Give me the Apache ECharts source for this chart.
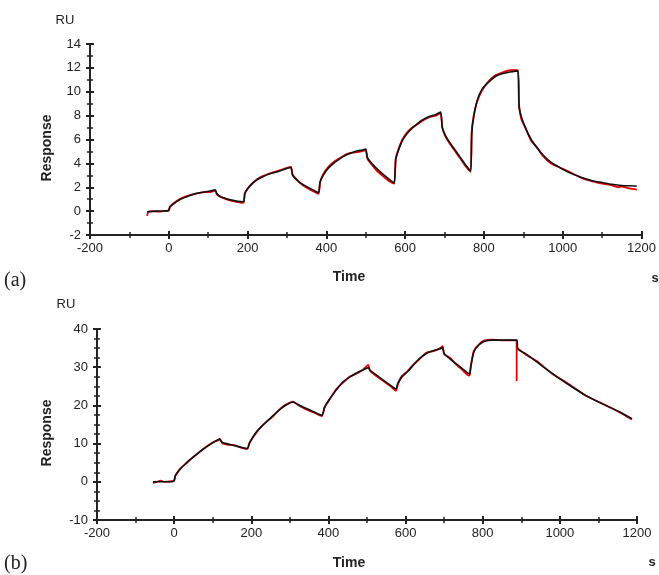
<!DOCTYPE html>
<html>
<head>
<meta charset="utf-8">
<script src="https://cdn.jsdelivr.net/npm/echarts@6/dist/echarts.min.js"></script>
<style>html,body{margin:0;padding:0;background:#fff;}#c{width:659px;height:575px;}</style>
</head>
<body>
<div id="c"></div>
<script>
// ---- Panel (a): [time s, response RU]
var fitCurveA = [[-55,-0.05],[-30,0],[-5,0.02],[0,0.08],[3,0.4],[10,0.55],[20,0.8],[30,1.0],[45,1.2],[60,1.4],[75,1.52],[90,1.6],[105,1.68],[118,1.78],[122,1.45],[130,1.25],[145,1.05],[160,0.92],[175,0.82],[190,0.78],[193,1.45],[200,1.85],[212,2.3],[225,2.65],[240,2.9],[255,3.1],[270,3.25],[285,3.4],[298,3.55],[310,3.65],[314,3.0],[322,2.7],[335,2.35],[350,2.05],[365,1.8],[380,1.55],[384,2.45],[392,3.0],[405,3.6],[420,4.05],[435,4.4],[450,4.7],[465,4.9],[480,5.05],[492,5.12],[500,5.2],[504,4.5],[515,4.0],[530,3.5],[545,3.05],[560,2.65],[572,2.35],[576,4.3],[582,5.0],[593,5.9],[605,6.5],[618,6.95],[632,7.35],[645,7.65],[660,7.9],[678,8.1],[690,8.3],[694,7.0],[700,6.5],[710,5.9],[725,5.2],[740,4.5],[755,3.8],[766,3.35],[769,6.5],[774,7.9],[783,9.3],[795,10.2],[812,10.8],[830,11.3],[846,11.5],[866,11.65],[886,11.75],[889,8.8],[895,7.9],[905,7.0],[920,6.0],[935,5.3],[950,4.7],[970,4.1],[1000,3.5],[1025,3.1],[1050,2.8],[1075,2.55],[1100,2.4],[1125,2.25],[1150,2.15],[1170,2.12],[1188,2.1]];
var measuredA = [[-55,-0.4],[-52,-0.05],[-40,0.0],[-25,-0.05],[-10,0.02],[0,0.05],[3,0.35],[10,0.6],[20,0.85],[30,1.05],[45,1.25],[60,1.38],[75,1.5],[90,1.6],[105,1.6],[118,1.72],[122,1.4],[130,1.2],[145,1.0],[160,0.85],[175,0.75],[185,0.7],[190,0.72],[193,1.5],[200,1.9],[212,2.35],[225,2.7],[240,2.95],[255,3.15],[270,3.3],[285,3.45],[298,3.6],[310,3.7],[314,3.1],[322,2.75],[335,2.3],[350,1.95],[365,1.7],[380,1.45],[384,2.4],[392,3.1],[405,3.7],[420,4.15],[435,4.45],[450,4.75],[465,4.9],[480,4.95],[492,5.05],[500,5.1],[504,4.4],[515,3.9],[530,3.3],[545,2.9],[560,2.5],[572,2.3],[576,4.4],[582,5.1],[593,6.0],[605,6.6],[618,7.0],[632,7.3],[645,7.6],[660,7.85],[678,8.0],[690,8.2],[694,7.1],[700,6.4],[710,5.8],[725,5.1],[740,4.4],[755,3.7],[766,3.3],[769,6.7],[774,8.0],[783,9.2],[795,10.1],[812,10.9],[830,11.4],[846,11.6],[866,11.8],[886,11.8],[889,8.9],[895,7.7],[905,7.0],[920,5.9],[935,5.3],[950,4.6],[970,4.0],[1000,3.55],[1025,3.15],[1050,2.75],[1075,2.5],[1100,2.3],[1125,2.15],[1140,2.0],[1150,2.05],[1170,1.9],[1188,1.8]];

// ---- Panel (b): [time s, response RU]
var fitCurveB = [[-55,0],[-30,0],[-5,0.05],[0,0.3],[3,1.6],[15,3.2],[30,4.8],[48,6.3],[65,7.8],[82,9.0],[100,10.2],[114,11.0],[118,11.1],[125,10.3],[140,9.9],[155,9.5],[175,9.0],[190,8.7],[195,10.0],[212,12.9],[230,14.8],[255,17.2],[275,19.0],[290,20.1],[308,20.9],[320,20.3],[340,19.3],[360,18.4],[383,17.4],[390,19.4],[401,21.4],[420,24.0],[436,26.0],[455,27.4],[471,28.4],[490,29.3],[503,29.9],[508,29.2],[525,27.9],[545,26.4],[560,25.3],[575,24.3],[580,25.8],[590,27.4],[605,28.8],[620,30.5],[635,32.2],[654,33.6],[672,34.3],[690,34.8],[696,35.1],[700,33.6],[715,32.2],[730,31.0],[745,29.8],[760,28.6],[766,28.2],[769,30.0],[777,34.0],[790,35.8],[805,36.8],[825,37.1],[860,37.1],[888,37.1],[891,34.8],[910,33.6],[940,31.4],[980,28.4],[1020,25.6],[1066,22.7],[1110,20.4],[1153,18.4],[1187,16.5]];
var measuredB = [[-55,-0.3],[-45,0.0],[-35,0.3],[-25,0.0],[-10,0.1],[0,0.3],[3,1.5],[15,3.4],[30,4.7],[48,6.4],[65,7.7],[82,9.1],[100,10.3],[114,10.9],[118,11.3],[125,10.1],[140,9.7],[155,9.6],[175,8.9],[190,8.6],[195,10.2],[212,12.7],[230,14.9],[255,17.0],[275,19.1],[290,20.2],[308,21.0],[320,20.2],[340,19.1],[360,18.2],[383,17.2],[390,19.6],[401,21.2],[420,24.2],[436,25.8],[455,27.5],[471,28.2],[490,29.4],[503,30.6],[508,29.0],[525,27.6],[545,26.2],[560,25.1],[575,23.8],[580,25.5],[590,27.6],[605,29.0],[620,30.7],[635,32.0],[654,33.8],[672,34.2],[690,35.0],[696,35.5],[700,33.4],[715,32.5],[730,30.8],[745,29.5],[760,28.0],[766,27.8],[769,30.3],[777,34.3],[790,36.0],[805,37.0],[825,37.2],[860,37.0],[888,37.0],[888,26.6],[888,35.2],[891,34.9],[910,33.4],[940,31.6],[980,28.3],[1020,25.8],[1066,22.6],[1110,20.5],[1153,18.3],[1187,16.3]];

// ---- axis settings
var xTicks = {min: -200, max: 1200, interval: 200};
var yTicksA = {min: -2, max: 14, interval: 2};
var yTicksB = {min: -10, max: 40, interval: 10};

var axisColor = '#222';
var fontFam = '"Liberation Sans", Arial, sans-serif';

function mainAxis(gridIndex, t, minorSplit, isX) {
  return {
    type: 'value', gridIndex: gridIndex, min: t.min, max: t.max, interval: t.interval,
    position: isX ? 'bottom' : 'left',
    axisLine: {show: true, onZero: false, lineStyle: {color: axisColor, width: 2}},
    axisTick: {show: true, inside: false, length: 4, lineStyle: {color: axisColor, width: 2}},
    minorTick: {show: true, splitNumber: minorSplit, length: 3, lineStyle: {color: axisColor, width: 1.5}},
    axisLabel: {color: '#222', fontSize: 13, fontFamily: fontFam, margin: isX ? 7 : 9,
      formatter: function (v) { return String(v); }},
    splitLine: {show: false}
  };
}
function ghostAxis(gridIndex, t, minorSplit, isX) {
  return {
    type: 'value', gridIndex: gridIndex, min: t.min, max: t.max, interval: t.interval,
    position: isX ? 'bottom' : 'left',
    axisLine: {show: false, onZero: false},
    axisTick: {show: true, inside: true, length: 4, lineStyle: {color: axisColor, width: 2}},
    minorTick: {show: true, splitNumber: minorSplit, length: 3, lineStyle: {color: axisColor, width: 1.5}},
    axisLabel: {show: false},
    splitLine: {show: false}
  };
}

var chart = echarts.init(document.getElementById('c'), null, {renderer: 'canvas'});
var txt = function (text, x, y, font, align, extra) {
  var o = {type: 'text', x: x, y: y, style: {text: text, font: font, fill: '#222', textAlign: align || 'center', textVerticalAlign: 'middle'}};
  if (extra) for (var k in extra) o[k] = extra[k];
  return o;
};
var lineSeries = function (xi, data, color, width, z) {
  return {type: 'line', xAxisIndex: xi, yAxisIndex: xi, data: data, showSymbol: false,
    smooth: 0.2, lineStyle: {color: color, width: width, join: 'round'}, z: z};
};

chart.setOption({
  animation: false,
  backgroundColor: '#fff',
  grid: [
    {left: 90, right: 17, top: 44, height: 191},
    {left: 97, right: 22, top: 329, height: 191}
  ],
  xAxis: [
    mainAxis(0, xTicks, 2, true), mainAxis(1, xTicks, 2, true),
    ghostAxis(0, xTicks, 2, true), ghostAxis(1, xTicks, 2, true)
  ],
  yAxis: [
    mainAxis(0, yTicksA, 2, false), mainAxis(1, yTicksB, 4, false),
    ghostAxis(0, yTicksA, 2, false), ghostAxis(1, yTicksB, 4, false)
  ],
  series: [
    lineSeries(0, measuredA, '#e60000', 1.8, 2),
    lineSeries(0, fitCurveA, '#111', 1.6, 3),
    lineSeries(1, measuredB, '#e60000', 1.8, 2),
    lineSeries(1, fitCurveB, '#111', 1.6, 3)
  ],
  graphic: [
    txt('RU', 65, 20, '13px ' + fontFam),
    txt('Response', 47, 148, 'bold 14px ' + fontFam, 'center', {rotation: Math.PI / 2}),
    txt('Time', 349, 277, 'bold 14px ' + fontFam),
    txt('s', 655, 278, 'bold 13px ' + fontFam),
    txt('(a)', 4, 281, '20px "Liberation Serif", "Times New Roman", serif', 'left'),
    txt('RU', 66, 304, '13px ' + fontFam),
    txt('Response', 47, 433, 'bold 14px ' + fontFam, 'center', {rotation: Math.PI / 2}),
    txt('Time', 349, 563, 'bold 14px ' + fontFam),
    txt('s', 652, 562, 'bold 13px ' + fontFam),
    txt('(b)', 4, 564, '20px "Liberation Serif", "Times New Roman", serif', 'left')
  ]
});
</script>
</body>
</html>
